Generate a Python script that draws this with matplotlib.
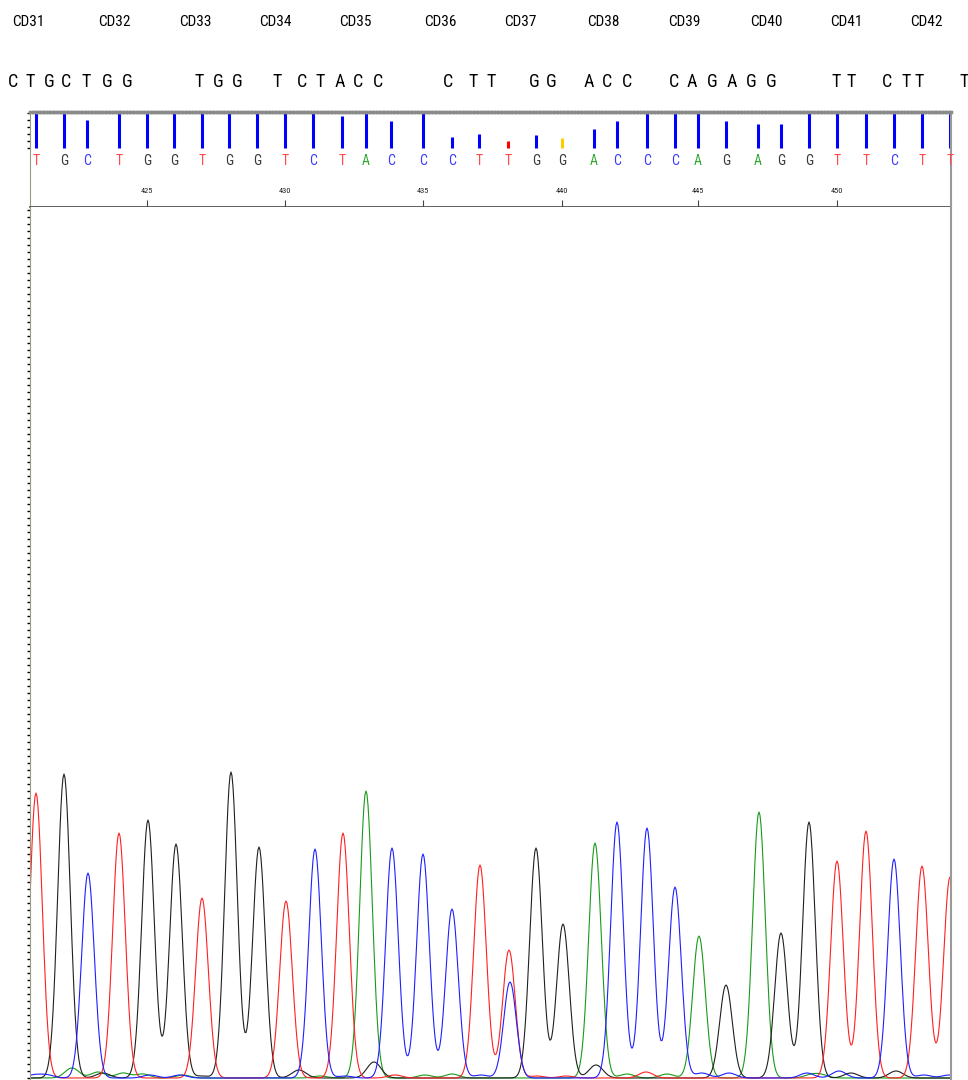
import numpy as np
import matplotlib
matplotlib.use("Agg")
import matplotlib.pyplot as plt
from matplotlib.ticker import MultipleLocator
from matplotlib import font_manager as fm

# ---------------- data ----------------
codon_labels = ["CD31", "CD32", "CD33", "CD34", "CD35", "CD36",
                "CD37", "CD38", "CD39", "CD40", "CD41", "CD42"]
codon_x = [28, 114, 195, 275, 355, 440, 520, 603, 684, 766, 846, 926]

ref_letters = list("CTGCTGG" + "TGG" + "TCTACC" + "CTT" + "GG" + "ACC" +
                   "CAGAGG" + "TT" + "CTT" + "T")
ref_x = [13, 30, 49, 66, 86, 107, 127, 199, 218, 237, 277, 302, 320, 340,
         358, 378, 448, 473, 491, 534, 551, 589, 607, 627, 674, 692, 712,
         732, 751, 771, 836, 851, 887, 906, 919, 964]

base_calls = list("TGCTGGTGGTCTACCCTTGGACCCAGAGGTTCTT")
first_base_number = 421
base_scan = [36, 64, 87, 119, 147, 174, 202, 229, 257, 285, 313, 342, 366,
             391, 423, 452, 479, 508, 536, 562, 594, 617, 647, 675, 698, 726,
             758, 781, 809, 837, 866, 894, 922, 950]
base_qv = [50, 50, 40, 50, 50, 50, 50, 50, 50, 50, 50, 46, 50, 39, 50, 16,
           20, 10, 19, 14, 27, 39, 50, 50, 50, 39, 34, 34, 50, 50, 50, 50,
           50, 50]

# main peaks per channel: scan position, height
A_pos = [366, 595, 699, 759]
A_h = [287, 235, 142, 266]
C_pos = [88, 315, 392, 423, 452, 510, 617, 647, 675, 894]
C_h = [205, 229, 230, 224, 169, 96, 256, 250, 191, 219]
G_pos = [64, 148, 176, 231, 259, 536, 563, 726, 781, 809]
G_h = [304, 258, 234, 306, 231, 230, 154, 93, 145, 256]
T_pos = [36, 119, 202, 286, 343, 480, 509, 837, 866, 922, 950]
T_h = [285, 245, 180, 177, 245, 213, 128, 217, 247, 212, 201]

# background (noise) bumps per channel
A_bg_pos = [72, 98, 123, 143, 183, 320, 425, 452, 627, 667, 811, 821]
A_bg_h = [10, 6, 5, 4, 3, 2, 3, 4, 4, 4, 3, 3]
C_bg_pos = [34, 47, 150, 180, 345, 481, 702, 729, 807, 839, 924, 949]
C_bg_h = [3, 3, 3, 3, 2, 3, 5, 5, 5, 7, 3, 3]
G_bg_pos = [103, 202, 299, 374, 596, 851, 896]
G_bg_h = [5, 2, 8, 16, 13, 5, 7]
T_bg_pos = [395, 537, 566, 646]
T_bg_h = [3, 2, 2, 6]

# ---------------- font choice (narrow if available) ----------------
_fonts = [(f.name, f.stretch) for f in fm.fontManager.ttflist]
_names = {n for n, _ in _fonts}
if "Roboto Condensed" in _names:
    NARROW = dict(family="Roboto Condensed")
elif any(n == "Roboto" and "condensed" in str(s) for n, s in _fonts):
    NARROW = dict(family="Roboto", stretch="condensed")
elif "Liberation Sans Narrow" in _names:
    NARROW = dict(family="Liberation Sans Narrow")
elif any(n == "DejaVu Sans" and "condensed" in str(s) for n, s in _fonts):
    NARROW = dict(family="DejaVu Sans", stretch="condensed")
else:
    NARROW = dict(family="Liberation Sans")

# ---------------- styling ----------------
trace_colors = {"A": "#1a9a1a", "C": "#1f1fff", "G": "#202020", "T": "#ff2020"}
letter_colors = {"A": "#33aa33", "C": "#3a3aff", "G": "#3a3a3a", "T": "#ff4a4a"}

W, H = 968, 1080
fig = plt.figure(figsize=(W / 100, H / 100), dpi=100)


def rect(x0, y0, x1, y1):
    return [x0 / W, 1 - y1 / H, (x1 - x0) / W, (y1 - y0) / H]


# ---- header: codon labels + reference sequence ----
ax_head = fig.add_axes(rect(0, 0, W, 110))
ax_head.set_xlim(0, W)
ax_head.set_ylim(110, 0)
ax_head.axis("off")
for lab, x in zip(codon_labels, codon_x):
    ax_head.text(x, 22, lab, ha="center", va="center", fontsize=11,
                 color="black", **NARROW)
for ch, x in zip(ref_letters, ref_x):
    ax_head.text(x, 82, ch, ha="center", va="center", fontsize=13,
                 color="black", **NARROW)

XL = (30, 951)

# ---- annotation panel: quality bars, base calls, base numbers ----
ax_ann = fig.add_axes(rect(30, 112, 951, 207))
ax_ann.set_xlim(*XL)
ax_ann.set_ylim(-84.3, 51.4)
qv = np.array(base_qv)
bar_cols = ["#ff0000" if q < 12 else ("#ffcc00" if q < 15 else "#0000ff") for q in qv]
ax_ann.vlines(base_scan, 0, np.minimum(qv, 50), colors=bar_cols, lw=2.2)
for b, x in zip(base_calls, base_scan):
    ax_ann.text(x, -18.6, b, ha="center", va="center", fontsize=10,
                color=letter_colors[b], **NARROW)
tick_idx = [i for i in range(len(base_scan)) if (first_base_number + i) % 5 == 0]
ax_ann.set_xticks([base_scan[i] for i in tick_idx])
ax_ann.set_xticklabels([])
ax_ann.tick_params(axis="x", direction="in", length=5, width=0.8,
                   color="#444444", bottom=True)
for i in tick_idx:
    ax_ann.text(base_scan[i], -62, str(first_base_number + i), ha="center",
                va="center", fontsize=6, color="#222222", **NARROW)
ax_ann.set_yticks([0, 10, 20, 30, 40, 50])
ax_ann.set_yticklabels([])
ax_ann.tick_params(axis="y", direction="out", length=2, width=1, color="black")
ax_ann.spines["top"].set_color("#8a8a8a")
ax_ann.spines["top"].set_linewidth(2.5)
ax_ann.spines["top"].set_linestyle((0, (0.6, 0.4)))
ax_ann.spines["left"].set_color("#9a9a80")
ax_ann.spines["right"].set_color("#9a9a9a")
ax_ann.spines["right"].set_linewidth(1.5)
ax_ann.spines["bottom"].set_color("#444444")
ax_ann.spines["bottom"].set_linewidth(1.2)

# ---- trace panel ----
ax_tr = fig.add_axes(rect(30, 207, 951, 1080))
ax_tr.set_xlim(*XL)
ax_tr.set_ylim(-2, 871)
scan = np.arange(20, 962, 1.0)


def trace(pos, h, bpos, bh):
    y = np.zeros_like(scan)
    for p, a in zip(pos, h):
        y += a * np.exp(-(scan - p) ** 2 / (2 * 6.3 ** 2))
    for p, a in zip(bpos, bh):
        y += a * np.exp(-(scan - p) ** 2 / (2 * 7.0 ** 2))
    return y


channels = [("A", A_pos, A_h, A_bg_pos, A_bg_h),
            ("G", G_pos, G_h, G_bg_pos, G_bg_h),
            ("T", T_pos, T_h, T_bg_pos, T_bg_h),
            ("C", C_pos, C_h, C_bg_pos, C_bg_h)]
for name, p, h, bp, bh in channels:
    ax_tr.plot(scan, trace(p, h, bp, bh), color=trace_colors[name], lw=0.8)

ax_tr.set_xticks([])
ax_tr.yaxis.set_major_locator(MultipleLocator(7))
ax_tr.set_yticklabels([])
ax_tr.tick_params(axis="y", direction="out", length=2, width=1, color="black")
ax_tr.spines["top"].set_visible(False)
ax_tr.spines["bottom"].set_visible(False)
ax_tr.spines["left"].set_color("#9a9a80")
ax_tr.spines["right"].set_color("#9a9a9a")
ax_tr.spines["right"].set_linewidth(1.5)

fig.savefig("out.png", dpi=100)
